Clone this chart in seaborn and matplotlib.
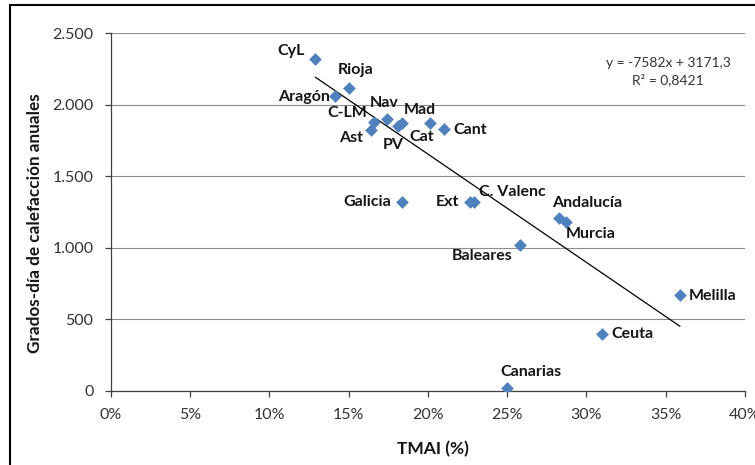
import matplotlib
matplotlib.use("Agg")
import matplotlib.pyplot as plt
import seaborn as sns
import pandas as pd
import numpy as np
from matplotlib.ticker import FixedLocator, FixedFormatter
from matplotlib.patches import Rectangle

regions = ["CyL", "Rioja", "Aragón", "C-LM", "Nav", "Ast", "PV", "Cat", "Mad", "Cant",
           "Galicia", "Ext", "C. Valenc", "Andalucía", "Murcia", "Baleares",
           "Melilla", "Ceuta", "Canarias"]
tmai = [0.129, 0.150, 0.1415, 0.166, 0.174, 0.164, 0.181, 0.1835, 0.2015, 0.210,
        0.184, 0.2265, 0.229, 0.2825, 0.287, 0.258, 0.359, 0.310, 0.250]
grados_dia = [2320, 2120, 2060, 1880, 1900, 1820, 1850, 1875, 1870, 1830,
              1320, 1320, 1320, 1205, 1180, 1015, 670, 395, 15]

trend_slope = -7582
trend_intercept = 3171.3
equation_text = "y = -7582x + 3171,3\nR² = 0,8421"

x_ticks = [0.0, 0.05, 0.10, 0.15, 0.20, 0.25, 0.30, 0.35, 0.40]
x_ticklabels = ["0%", "5%", "10%", "15%", "20%", "25%", "30%", "35%", "40%"]
y_ticks = [0, 500, 1000, 1500, 2000, 2500]
y_ticklabels = ["0", "500", "1.000", "1.500", "2.000", "2.500"]

x_label = "TMAI (%)"
y_label = "Grados-día de calefacción anuales"

# label placement (offset in pixels, horizontal alignment)
label_pos = {
    "CyL": (-11, 8, "right"), "Rioja": (7, 18, "center"), "Aragón": (-5, -1, "right"),
    "C-LM": (-7, 9, "right"), "Nav": (-2, 16, "center"), "Ast": (-8, -8, "right"),
    "PV": (-4, -19, "center"), "Cat": (8, -14, "left"), "Mad": (-10, 13, "center"),
    "Cant": (10, -1, "left"), "Galicia": (-11, 0, "right"), "Ext": (-11, 0, "right"),
    "C. Valenc": (5, 10, "left"), "Andalucía": (-7, 15, "left"), "Murcia": (0, -12, "left"),
    "Baleares": (-7, -11, "right"), "Melilla": (9, -1, "left"), "Ceuta": (9, 0, "left"),
    "Canarias": (-7, 16, "left"),
}

sns.set_theme(style="white")
plt.rcParams["font.family"] = ["Lato", "DejaVu Sans"]

W, H = 755, 465
fig = plt.figure(figsize=(W / 100, H / 100), dpi=100)
left, right, top, bottom = 110.7, 745, 33.3, 390.5
ax = fig.add_axes([left / W, 1 - bottom / H, (right - left) / W, (bottom - top) / H])

df = pd.DataFrame({"TMAI": tmai, "GD": grados_dia, "Region": regions})

# trendline over the data range
xs = np.array([min(tmai), max(tmai)])
trend_df = pd.DataFrame({"x": xs, "y": trend_slope * xs + trend_intercept})
sns.lineplot(data=trend_df, x="x", y="y", ax=ax, color="black", linewidth=0.9, zorder=2)

sns.scatterplot(data=df, x="TMAI", y="GD", ax=ax, marker="D", s=42,
                color="#4F81BD", edgecolor="#4F81BD", linewidth=0, zorder=3)

for r, xv, yv in zip(regions, tmai, grados_dia):
    dx, dy, ha = label_pos[r]
    ax.annotate(r, (xv, yv), xytext=(dx, dy), textcoords="offset pixels",
                ha=ha, va="center", fontsize=11.5, fontweight="bold", color="#151515",
                zorder=4)

ax.set_xlim(0, 0.40)
ax.set_ylim(0, 2500)
ax.xaxis.set_major_locator(FixedLocator(x_ticks))
ax.xaxis.set_major_formatter(FixedFormatter(x_ticklabels))
ax.yaxis.set_major_locator(FixedLocator(y_ticks))
ax.yaxis.set_major_formatter(FixedFormatter(y_ticklabels))

ax.grid(axis="y", color="#8c8c8c", linewidth=0.8)
ax.grid(axis="x", visible=False)
ax.set_axisbelow(True)

for s in ["top", "right"]:
    ax.spines[s].set_visible(False)
for s in ["left", "bottom"]:
    ax.spines[s].set_color("#404040")
    ax.spines[s].set_linewidth(0.9)

ax.tick_params(axis="both", which="major", direction="out", length=4.3, width=0.9,
               color="#404040", labelsize=11.5, labelcolor="#333333",
               bottom=True, left=True)
ax.tick_params(axis="x", pad=8)
ax.tick_params(axis="y", pad=8)

ax.set_xlabel(x_label, fontsize=12.5, fontweight="bold", color="#151515")
ax.set_ylabel(y_label, fontsize=12.3, fontweight="bold", color="#151515")
ax.xaxis.set_label_coords((433 - left) / (right - left), (bottom - 449) / (bottom - top))
ax.yaxis.set_label_coords((35 - left) / (right - left), (bottom - 223) / (bottom - top))
ax.xaxis.label.set_verticalalignment("center")
ax.yaxis.label.set_verticalalignment("center")

ax.text(668 / W, 1 - 71.7 / H, equation_text, transform=fig.transFigure,
        ha="center", va="center", fontsize=10, color="#333333", linespacing=1.35)

fig.patches.append(Rectangle((10 / W, -0.02), 1.1, 1 - 5 / H + 0.02,
                             transform=fig.transFigure, fill=False,
                             edgecolor="black", linewidth=1.5))

fig.savefig("out.png", dpi=100)
